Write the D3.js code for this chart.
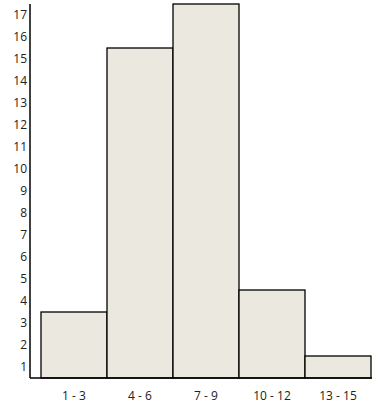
<!DOCTYPE html>
<html>
<head>
<meta charset="UTF-8">
<script src="https://cdnjs.cloudflare.com/ajax/libs/d3/7.8.5/d3.min.js"></script>
<style>
  body { margin: 0; background: #fff; }
  text { font-family: "Open Sans", "Liberation Sans", sans-serif; font-size: 12px; fill: #222; }
</style>
</head>
<body>
<div id="chart"></div>
<script>
// class intervals and their counts
const categories = ["1 - 3", "4 - 6", "7 - 9", "10 - 12", "13 - 15"];
const counts = [3, 15, 17, 4, 1];
const yLabels = d3.range(1, 18); // 1 .. 17, drawn in the middle of each unit

const width = 388, height = 409;
const plotLeft = 30, plotRight = 372, plotTop = 4, plotBottom = 378;

const svg = d3.select("#chart").append("svg")
    .attr("width", width)
    .attr("height", height);

const x = d3.scaleBand()
    .domain(categories)
    .range([41, 371])
    .padding(0);

const y = d3.scaleLinear()
    .domain([0, 17])
    .range([plotBottom, plotTop]);

// bars
svg.selectAll(".bar")
    .data(counts)
    .enter()
    .append("rect")
    .attr("class", "bar")
    .attr("x", (d, i) => x(categories[i]))
    .attr("y", d => y(d))
    .attr("width", x.bandwidth())
    .attr("height", d => y(0) - y(d))
    .attr("fill", "#ebe8df")
    .attr("stroke", "#000")
    .attr("stroke-width", 1.3);

// y axis line + labels placed between unit steps
svg.append("line")
    .attr("x1", plotLeft).attr("x2", plotLeft)
    .attr("y1", plotTop).attr("y2", plotBottom)
    .attr("stroke", "#000").attr("stroke-width", 1.5);

svg.selectAll(".ylab")
    .data(yLabels)
    .enter()
    .append("text")
    .attr("class", "ylab")
    .attr("x", plotLeft - 3)
    .attr("y", d => y(d - 0.5))
    .attr("dy", "0.35em")
    .attr("text-anchor", "end")
    .text(d => d);

// x axis line + category labels
svg.append("line")
    .attr("x1", plotLeft).attr("x2", plotRight)
    .attr("y1", plotBottom).attr("y2", plotBottom)
    .attr("stroke", "#000").attr("stroke-width", 1.5);

svg.selectAll(".xlab")
    .data(categories)
    .enter()
    .append("text")
    .attr("class", "xlab")
    .attr("x", d => x(d) + x.bandwidth() / 2)
    .attr("y", 396)
    .attr("dy", "0.35em")
    .attr("text-anchor", "middle")
    .text(d => d);
</script>
</body>
</html>
